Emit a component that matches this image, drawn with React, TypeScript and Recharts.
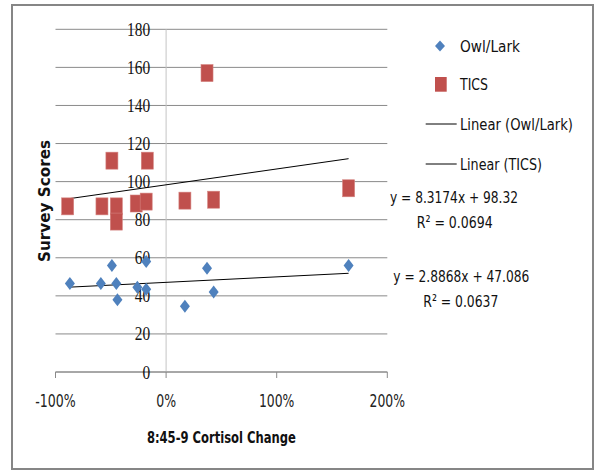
import React from 'react';
import { ScatterChart, Scatter, XAxis, YAxis, CartesianGrid, ReferenceLine, ReferenceDot } from 'recharts';

// Owl/Lark scores vs cortisol change (x as fraction, 1 = 100%)
const owlX = [-0.87, -0.59, -0.49, -0.45, -0.44, -0.26, -0.18, -0.18, 0.17, 0.37, 0.43, 1.65];
const owlY = [46.5, 46.5, 56, 46.5, 38, 44.5, 58, 43.5, 34.5, 54.5, 42, 56];

// TICS scores
const ticsX = [-0.89, -0.58, -0.49, -0.45, -0.45, -0.27, -0.18, -0.17, 0.17, 0.37, 0.43, 1.65];
const ticsY = [87, 87, 111, 87, 79, 88.5, 89.5, 111, 90, 157, 90.5, 96.5];

// linear trendlines as printed on the chart
const trendNames = ['Linear (Owl/Lark)', 'Linear (TICS)'];
const trendSlopes = [2.8868, 8.3174];
const trendIntercepts = [47.086, 98.32];
const trendR2 = ['0.0637', '0.0694'];

const xTicks = [-1, 0, 1, 2];
const yTicks = [0, 20, 40, 60, 80, 100, 120, 140, 160, 180];

const NARROW = "'Liberation Sans Narrow', 'DejaVu Sans Condensed', 'Open Sans', sans-serif";
const BLUE = '#4F81BD';
const RED = '#C0504D';

const owlData = owlX.map((x, i) => ({ x, y: owlY[i] }));
const ticsData = ticsX.map((x, i) => ({ x, y: ticsY[i] }));

const trendData = (xs: number[], k: number) => {
  const lo = Math.min(...xs);
  const hi = Math.max(...xs);
  return [lo, hi].map(x => ({ x, y: trendSlopes[k] * x + trendIntercepts[k] }));
};

const Diamond = (props: any) => {
  const { cx, cy } = props;
  return <polygon points={`${cx},${cy - 6.5} ${cx + 5},${cy} ${cx},${cy + 6.5} ${cx - 5},${cy}`} fill={BLUE} />;
};

const Square = (props: any) => {
  const { cx, cy } = props;
  return <rect x={cx - 6} y={cy - 8.5} width={12} height={17} fill={RED} stroke="#d4827f" strokeWidth={0.6} />;
};

const NoShape = () => <g />;

const pct = (v: number) => `${Math.round(v * 100)}%`;

// rough glyph widths of the narrow axis font
const glyphW = (s: string) =>
  s.split('').reduce((w, c) => w + (c === '%' ? 12 : c === '-' ? 5 : 7.8), 0);

const XTick = (props: any) => {
  const { x, y, payload } = props;
  const s = pct(payload.value);
  return (
    <text
      x={x}
      y={y + 21}
      textAnchor="middle"
      dominantBaseline="central"
      fontFamily={NARROW}
      fontSize={17}
      fill="#222"
      textLength={glyphW(s)}
      lengthAdjust="spacingAndGlyphs"
    >
      {s}
    </text>
  );
};

const yLabel = (v: number) => (p: any) => {
  const vb = p.viewBox || {};
  const s = String(v);
  return (
    <text
      x={vb.x - 16}
      y={vb.y}
      textAnchor="end"
      dominantBaseline="central"
      fontFamily="'Liberation Serif', serif"
      fontSize={19}
      fill="#111"
      textLength={s.length * 7.7}
      lengthAdjust="spacingAndGlyphs"
    >
      {s}
    </text>
  );
};

const xTitle = (p: any) => {
  const vb = p.viewBox || {};
  return (
    <text
      x={vb.x + vb.width / 2}
      y={vb.y + 65}
      textAnchor="middle"
      dominantBaseline="central"
      fontFamily={NARROW}
      fontWeight="bold"
      fontSize={16}
      fill="#111"
      textLength={149}
      lengthAdjust="spacingAndGlyphs"
    >
      8:45-9 Cortisol Change
    </text>
  );
};

const txt = { fontFamily: NARROW, fontSize: 16.5, fill: '#111', dominantBaseline: 'central' as const, lengthAdjust: 'spacingAndGlyphs' };

export default function App() {
  return (
    <div style={{ position: 'absolute', left: 0, top: 0, width: 595, height: 472, background: '#fff' }}>
      <div
        style={{
          position: 'absolute',
          left: 11,
          top: 4,
          width: 583,
          height: 466,
          border: '2px solid #868686',
          boxSizing: 'border-box',
        }}
      />
      <ScatterChart width={595} height={472} margin={{ top: 29.3, right: 207.7, bottom: 70, left: 55.5 }}>
        <CartesianGrid vertical={false} stroke="#8a8a8a" strokeWidth={1} />
        <XAxis
          type="number"
          dataKey="x"
          domain={[-1, 2]}
          ticks={xTicks}
          height={30}
          axisLine={{ stroke: '#8a8a8a' }}
          tickLine={{ stroke: '#8a8a8a' }}
          tickSize={6}
          tick={<XTick />}
          label={xTitle}
        />
        <YAxis type="number" dataKey="y" domain={[0, 180]} ticks={yTicks} hide />
        <ReferenceLine x={0} stroke="#c4c4c4" strokeWidth={1} />
        {yTicks.map(v => (
          <ReferenceDot key={v} x={0} y={v} r={0} fill="none" stroke="none" ifOverflow="visible" label={yLabel(v)} />
        ))}
        <Scatter name={trendNames[0]} data={trendData(owlX, 0)} line={{ stroke: '#000', strokeWidth: 1 }} shape={<NoShape />} isAnimationActive={false} />
        <Scatter name={trendNames[1]} data={trendData(ticsX, 1)} line={{ stroke: '#000', strokeWidth: 1 }} shape={<NoShape />} isAnimationActive={false} />
        <Scatter name="Owl/Lark" data={owlData} shape={<Diamond />} isAnimationActive={false} />
        <Scatter name="TICS" data={ticsData} shape={<Square />} isAnimationActive={false} />
      </ScatterChart>
      <svg width={595} height={472} style={{ position: 'absolute', left: 0, top: 0, pointerEvents: 'none' }}>
        <text
          transform="translate(44,201) rotate(-90)"
          textAnchor="middle"
          dominantBaseline="central"
          fontFamily={NARROW}
          fontWeight="bold"
          fontSize={16}
          fill="#111"
          textLength={122}
          lengthAdjust="spacingAndGlyphs"
        >
          Survey Scores
        </text>
        {/* legend */}
        <polygon points="440,40.5 445,46 440,51.5 435,46" fill={BLUE} />
        <text x={460} y={46} {...txt} textLength={60}>Owl/Lark</text>
        <rect x={435} y={77} width={11.7} height={14.7} fill={RED} />
        <text x={460} y={84} {...txt} textLength={28}>TICS</text>
        <line x1={425.7} y1={124} x2={456.7} y2={124} stroke="#000" strokeWidth={1} />
        <text x={460} y={124} {...txt} textLength={113}>{trendNames[0]}</text>
        <line x1={425.7} y1={164} x2={456.7} y2={164} stroke="#000" strokeWidth={1} />
        <text x={460} y={164} {...txt} textLength={82}>{trendNames[1]}</text>
        {/* trendline equations */}
        <text x={390} y={197} {...txt} textLength={128}>{`y = ${trendSlopes[1]}x + ${trendIntercepts[1]}`}</text>
        <text x={416.7} y={222} {...txt} textLength={76}>{`R² = ${trendR2[1]}`}</text>
        <text x={393.3} y={276} {...txt} textLength={136}>{`y = ${trendSlopes[0]}x + ${trendIntercepts[0]}`}</text>
        <text x={423.3} y={301.5} {...txt} textLength={75}>{`R² = ${trendR2[0]}`}</text>
      </svg>
    </div>
  );
}
